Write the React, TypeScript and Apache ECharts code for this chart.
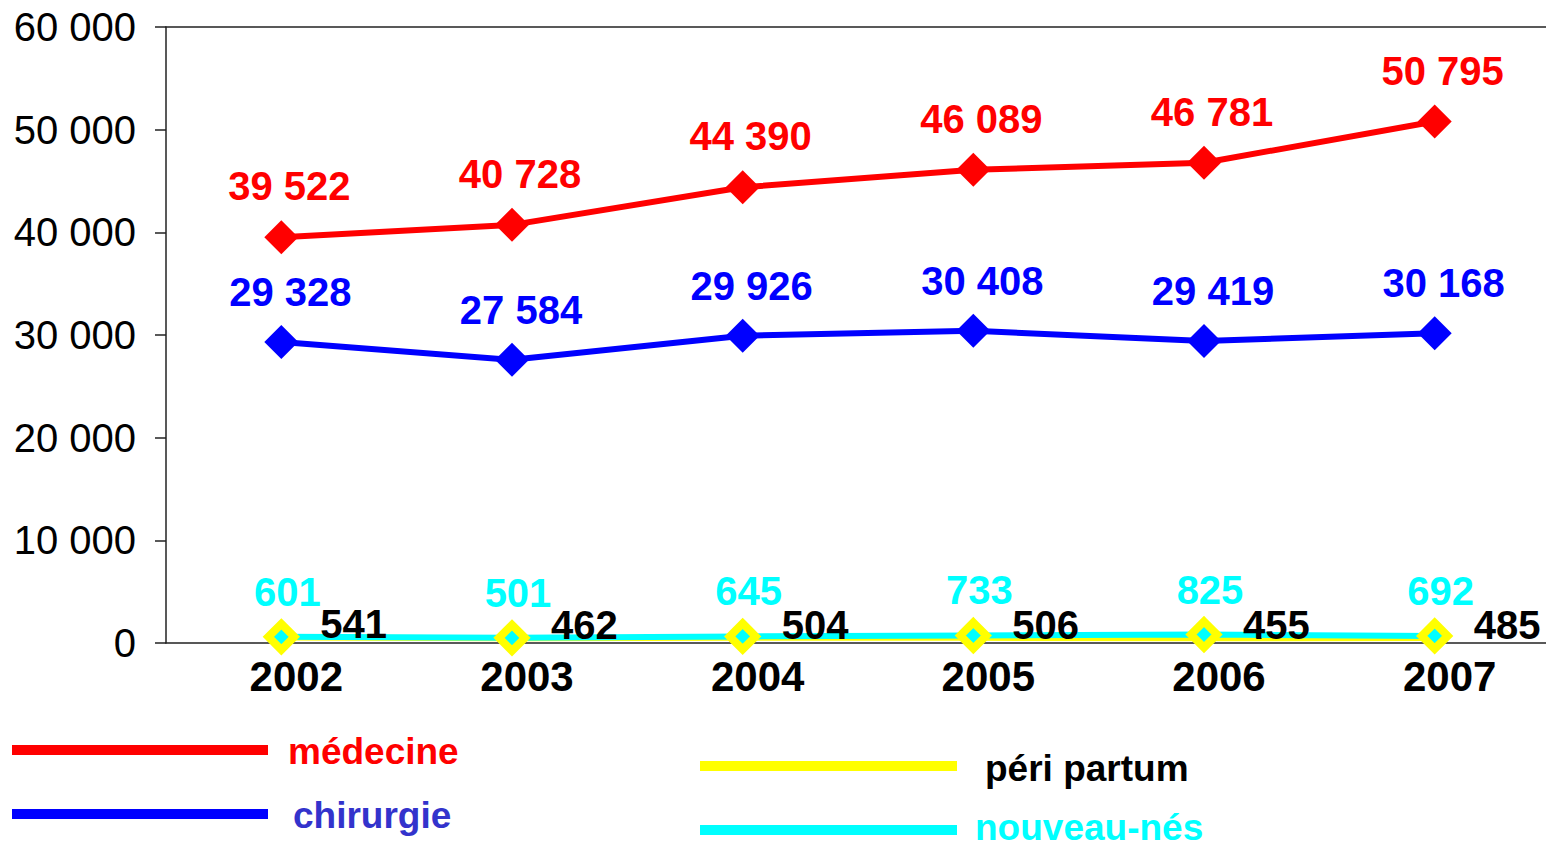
import React, { useEffect, useRef } from "react";
import * as echarts from "echarts";

const years = ["2002", "2003", "2004", "2005", "2006", "2007"];
const medecine = [39522, 40728, 44390, 46089, 46781, 50795];
const chirurgie = [29328, 27584, 29926, 30408, 29419, 30168];
const periPartum = [541, 462, 504, 506, 455, 485];
const nouveauNes = [601, 501, 645, 733, 825, 692];
const yTicks = { min: 0, max: 60000, interval: 10000 };

const FONT = "'Liberation Sans', Arial, sans-serif";
const fmt = (v: number) => String(v).replace(/\B(?=(\d{3})+(?!\d))/g, " ");

export default function App() {
  const ref = useRef<HTMLDivElement>(null);
  useEffect(() => {
    if (!ref.current) return;
    const chart = echarts.init(ref.current, undefined, { renderer: "svg" });
    const lbl = (color: string) => ({
      show: true,
      fontFamily: FONT,
      fontWeight: "bold" as const,
      fontSize: 40,
      color,
      formatter: (p: any) => fmt(p.value),
    });
    chart.setOption({
      animation: false,
      backgroundColor: "#ffffff",
      grid: { left: 166, top: 27, right: 0, height: 616 },
      xAxis: [
        {
          type: "category",
          data: years,
          boundaryGap: true,
          axisLine: { show: true, lineStyle: { color: "#222", width: 1.5 } },
          axisTick: { show: false },
          axisLabel: {
            fontFamily: FONT,
            fontWeight: "bold",
            fontSize: 42,
            color: "#000",
            margin: 12,
            padding: [0, 0, 0, 30],
          },
        },
        {
          type: "category",
          data: years,
          position: "top",
          axisLine: { show: true, lineStyle: { color: "#222", width: 1.5 } },
          axisTick: { show: false },
          axisLabel: { show: false },
        },
      ],
      yAxis: {
        type: "value",
        min: yTicks.min,
        max: yTicks.max,
        interval: yTicks.interval,
        axisLine: { show: true, lineStyle: { color: "#222", width: 1.5 } },
        axisTick: { show: true, length: 11, lineStyle: { color: "#222", width: 1.5 } },
        splitLine: { show: false },
        axisLabel: {
          fontFamily: FONT,
          fontSize: 40,
          color: "#000",
          margin: 30,
          formatter: (v: number) => fmt(v),
        },
      },
      series: [
        {
          name: "médecine",
          type: "line",
          data: medecine,
          symbol: "diamond",
          symbolSize: 34,
          lineStyle: { color: "#ff0000", width: 6 },
          itemStyle: { color: "#ff0000" },
          label: { ...lbl("#ff0000"), position: "top", distance: 14, offset: [8, 0] },
        },
        {
          name: "chirurgie",
          type: "line",
          data: chirurgie,
          symbol: "diamond",
          symbolSize: 34,
          lineStyle: { color: "#0000ff", width: 6 },
          itemStyle: { color: "#0000ff" },
          label: { ...lbl("#0000ff"), position: "top", distance: 13, offset: [9, 0] },
        },
        {
          name: "péri partum",
          type: "line",
          data: periPartum,
          symbol: "diamond",
          symbolSize: 2,
          lineStyle: { color: "#ffff00", width: 6 },
          itemStyle: { color: "#ffff00" },
          label: { ...lbl("#000000"), position: "right", distance: 38, offset: [0, -13] },
        },
        {
          name: "nouveau-nés",
          type: "line",
          data: nouveauNes,
          symbol: "diamond",
          symbolSize: 26,
          lineStyle: { color: "#00ffff", width: 6 },
          itemStyle: { color: "#00ffff", borderColor: "#ffff00", borderWidth: 8 },
          label: { ...lbl("#00ffff"), position: "top", distance: 8, offset: [6, 0] },
        },
      ],
      graphic: [
        { type: "rect", shape: { x: 12, y: 745, width: 256, height: 10 }, style: { fill: "#ff0000" } },
        { type: "text", x: 288, y: 751, style: { text: "médecine", fill: "#ff0000", font: `bold 37px ${FONT}`, verticalAlign: "middle" } },
        { type: "rect", shape: { x: 12, y: 809, width: 256, height: 10 }, style: { fill: "#0000ff" } },
        { type: "text", x: 293, y: 815, style: { text: "chirurgie", fill: "#3333cc", font: `bold 37px ${FONT}`, verticalAlign: "middle" } },
        { type: "rect", shape: { x: 700, y: 761, width: 257, height: 10 }, style: { fill: "#ffff00" } },
        { type: "text", x: 985, y: 768, style: { text: "péri partum", fill: "#000000", font: `bold 37px ${FONT}`, verticalAlign: "middle" } },
        { type: "rect", shape: { x: 700, y: 825, width: 257, height: 10 }, style: { fill: "#00ffff" } },
        { type: "text", x: 975, y: 827, style: { text: "nouveau-nés", fill: "#00ffff", font: `bold 37px ${FONT}`, verticalAlign: "middle" } },
      ],
    });
    return () => chart.dispose();
  }, []);
  return (
    <div
      ref={ref}
      style={{ position: "fixed", left: 0, top: 0, width: 1550, height: 847, background: "#fff" }}
    />
  );
}
